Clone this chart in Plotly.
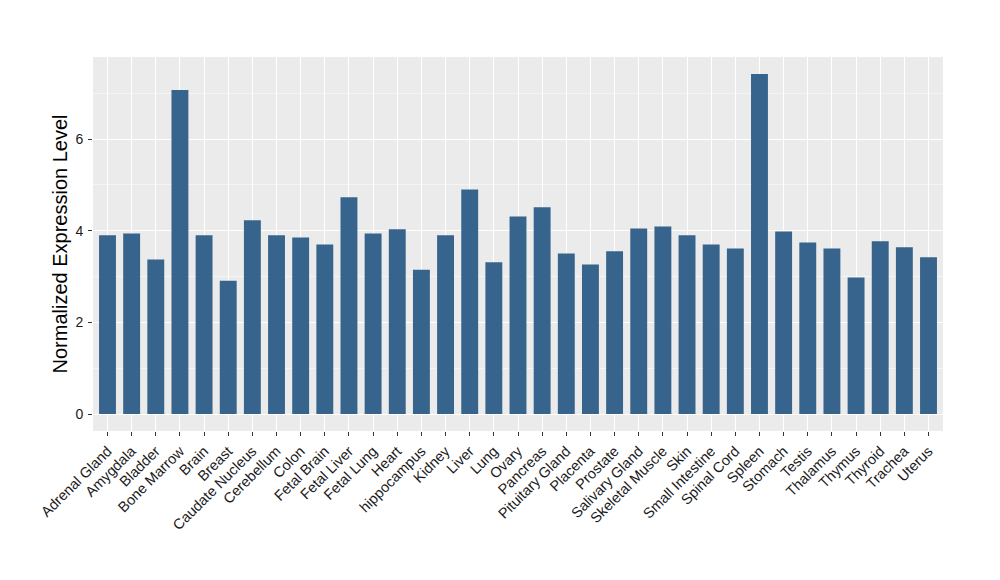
import plotly.graph_objects as go

tissues = ["Adrenal Gland", "Amygdala", "Bladder", "Bone Marrow", "Brain", "Breast",
           "Caudate Nucleus", "Cerebellum", "Colon", "Fetal Brain", "Fetal Liver",
           "Fetal Lung", "Heart", "hippocampus", "Kidney", "Liver", "Lung", "Ovary",
           "Pancreas", "Pituitary Gland", "Placenta", "Prostate", "Salivary Gland",
           "Skeletal Muscle", "Skin", "Small Intestine", "Spinal Cord", "Spleen",
           "Stomach", "Testis", "Thalamus", "Thymus", "Thyroid", "Trachea", "Uterus"]
expression = [3.90, 3.94, 3.37, 7.07, 3.90, 2.91, 4.23, 3.90, 3.85, 3.70, 4.73,
              3.94, 4.03, 3.15, 3.90, 4.90, 3.31, 4.31, 4.51, 3.50, 3.26, 3.55,
              4.05, 4.09, 3.90, 3.70, 3.61, 7.42, 3.98, 3.74, 3.61, 2.98, 3.77,
              3.64, 3.42]
y_ticks = [0, 2, 4, 6]

fig = go.Figure(go.Bar(x=tissues, y=expression, marker_color="#37648C",
                       marker_line_width=0, width=0.7))

# page body adds an 8px offset; margins compensate so the panel lands where the reference has it
fig.update_layout(
    width=1000, height=580,
    margin=dict(l=85, r=65, t=49, b=157),
    paper_bgcolor="white", plot_bgcolor="#EBEBEB",
    font=dict(family="Liberation Sans, Arial, sans-serif", color="#1a1a1a"),
    showlegend=False,
)
fig.update_xaxes(
    automargin=False,
    range=[-0.6, len(tissues) - 0.4],
    tickangle=-45, tickfont=dict(size=14.5, color="#1a1a1a"),
    ticklabelstandoff=1,
    showgrid=True, gridcolor="white", gridwidth=1.1,
    ticks="outside", ticklen=4, tickcolor="#333333", tickwidth=1,
    showline=False, zeroline=False,
)
fig.update_yaxes(
    automargin=False,
    range=[-0.371, 7.79],
    tickvals=y_ticks, ticktext=[str(v) for v in y_ticks],
    tickfont=dict(size=14, color="#1a1a1a"),
    ticklabelstandoff=2,
    showgrid=True, gridcolor="white", gridwidth=1.1,
    minor=dict(tickvals=[1, 3, 5, 7], showgrid=True, gridcolor="#F5F5F5", gridwidth=0.6, ticks=""),
    ticks="outside", ticklen=4, tickcolor="#333333", tickwidth=1,
    showline=False, zeroline=False,
    title=dict(text="Normalized Expression Level", font=dict(size=20, color="black"), standoff=2),
)

fig.write_html("out.html")
